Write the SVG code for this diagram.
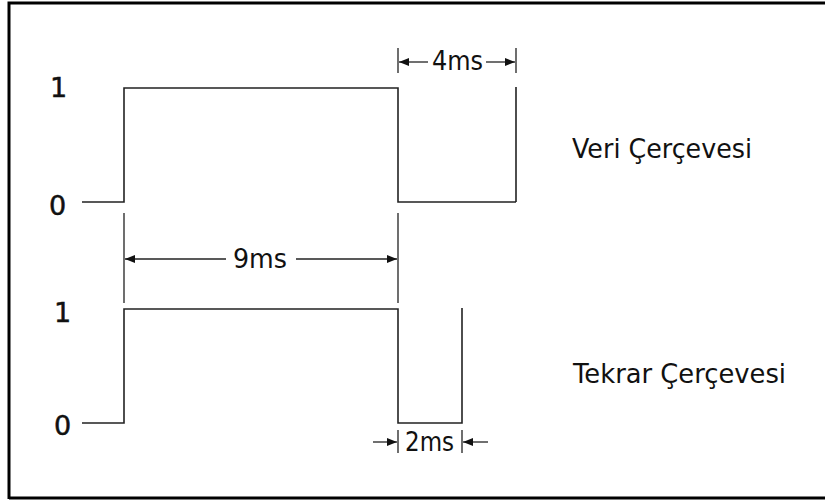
<svg xmlns="http://www.w3.org/2000/svg" width="825" height="500" viewBox="0 0 825 500">
<style>
.sig{fill:none;stroke:#222;stroke-width:1.6}
.dim{fill:none;stroke:#222;stroke-width:1.3}
.t{font-family:"DejaVu Sans",Verdana,sans-serif;font-size:27px;fill:#111}
.lvl{font-family:"DejaVu Sans",Verdana,sans-serif;font-size:27px;fill:#111;stroke:#111;stroke-width:0.5}
</style>
<defs>
<marker id="ah" viewBox="0 0 10 8" refX="10" refY="4" markerWidth="10" markerHeight="8" markerUnits="userSpaceOnUse" orient="auto">
<path d="M0,0 L10,4 L0,8 Z" fill="#111"/>
</marker>
</defs>
<rect width="825" height="500" fill="#fff"/>
<path d="M9,499 V3 H826 M9,498 H826" fill="none" stroke="#000" stroke-width="3"/>
<g id="levels">
<text class="lvl" x="50" y="97">1</text>
<text class="lvl" x="49" y="215">0</text>
<text class="lvl" x="54" y="322">1</text>
<text class="lvl" x="54" y="435">0</text>
</g>
<g id="veri-signal">
<path class="sig" d="M82,202 H124 V88 H398 V202 H516 M516,87 V202"/>
</g>
<g id="tekrar-signal">
<path class="sig" d="M82,423 H124 V309 H398 V423 H462 V308"/>
</g>
<g id="labels">
<text class="t" x="572" y="158" textLength="180" lengthAdjust="spacingAndGlyphs">Veri Çerçevesi</text>
<text class="t" x="573" y="383" textLength="213" lengthAdjust="spacingAndGlyphs">Tekrar Çerçevesi</text>
</g>
<g id="connectors">
<path class="dim" d="M398,48 V73 M516,48 V73"/>
<path class="dim" d="M428,62 H399" marker-end="url(#ah)"/>
<path class="dim" d="M486,62 H515" marker-end="url(#ah)"/>
<text class="t" x="432" y="70" textLength="51" lengthAdjust="spacingAndGlyphs">4ms</text>
<path class="dim" d="M124,213 V303 M398,213 V303"/>
<path class="dim" d="M226,259 H125" marker-end="url(#ah)"/>
<path class="dim" d="M296,259 H397" marker-end="url(#ah)"/>
<text class="t" x="233" y="268" textLength="54" lengthAdjust="spacingAndGlyphs">9ms</text>
<path class="dim" d="M398,430 V453 M462,430 V453"/>
<path class="dim" d="M373,442 H397" marker-end="url(#ah)"/>
<path class="dim" d="M488,442 H463" marker-end="url(#ah)"/>
<text class="t" x="405" y="451" textLength="49" lengthAdjust="spacingAndGlyphs">2ms</text>
</g>
</svg>
